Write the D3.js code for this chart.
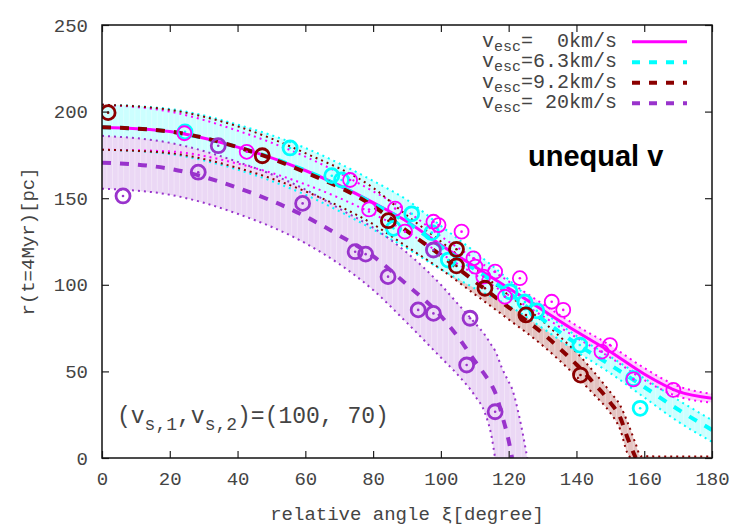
<!DOCTYPE html>
<html>
<head>
<meta charset="utf-8">
<script src="https://cdn.jsdelivr.net/npm/d3@7"></script>
<style>
    body { margin: 0; background: #fff; }
    svg text { font-family: "Liberation Mono", "DejaVu Sans Mono", monospace; white-space: pre; }
</style>
</head>
<body>
<div id="chart"></div>
<script>
// axis ticks
const xTicks = [0, 20, 40, 60, 80, 100, 120, 140, 160, 180];
const yTicks = [0, 50, 100, 150, 200, 250];

// model curves: [angle, lower, mean, upper]
const band0 = [
    [0, 178, 191, 204], [20, 177, 188.5, 200], [40, 170, 179.5, 189], [60, 158, 166, 174],
    [80, 141, 147.5, 154], [90, 130.5, 136.5, 142.5], [100, 118, 123, 128], [110, 106, 110.5, 115],
    [120, 94, 98, 102], [130, 82, 85.5, 89], [140, 69.5, 73, 76.5], [150, 58, 61.4, 65],
    [160, 45, 48.5, 52], [170, 35.5, 38.5, 41.5], [180, 32, 34.5, 37]
];
const band63 = [
    [0, 178, 191, 204], [20, 175.5, 188.5, 201.5], [40, 166.5, 179.5, 192.5], [60, 152, 166, 179],
    [80, 132, 147, 160], [90, 121, 136, 149], [100, 109, 122, 134], [110, 98, 109, 119],
    [120, 88, 95.5, 103], [130, 75, 80, 85], [140, 61.5, 66, 70.5], [150, 49, 53.7, 58.5],
    [160, 35, 41, 46], [170, 21, 28, 33.5], [180, 9.4, 16.2, 21.9]
];
const band92 = [
    [0, 178, 191, 204], [20, 176, 188.5, 201], [40, 167.5, 179.5, 191.5], [60, 154, 165, 176],
    [80, 135, 145.5, 156], [90, 122, 131, 140], [100, 109, 117, 125], [110, 94.5, 102, 109.5],
    [120, 80, 87, 94], [130, 65, 72, 79], [136, 54.5, 61.5, 68.5], [140, 47, 54, 61],
    [145, 37, 43.5, 50], [150, 26, 32, 38], [153, 16, 23, 30], [155, 3, 12, 21],
    [156, 0, 7, 16], [157.5, 0, 0, 8], [159, 0, 0, 1], [180, 0, 0, 0.8]
];
const band20 = [
    [0, 155.5, 170.5, 186], [20, 152, 167, 182], [40, 141, 156, 171], [60, 124, 139.5, 155],
    [70, 112, 128.5, 144], [80, 97, 116.5, 133], [90, 78, 100, 118.5], [100, 58, 82, 100],
    [105, 48, 70, 89], [110, 36, 56, 78], [113, 26, 48, 71], [115, 12, 42, 65],
    [116, 0, 38, 62], [118, 0, 25, 52], [120, 0, 10, 44], [121, 0, 0, 40],
    [123, 0, 0, 25], [125.5, 0, 0, 0]
];

// simulation points: [angle, r]
const pts0 = [
    [24.3, 187.5], [42.7, 176.8], [73.2, 160.5], [78.8, 143.5], [86.5, 144], [89.4, 130.7],
    [97.8, 136.4], [99.3, 134.5], [106.1, 130.7], [109.6, 115.3], [110.2, 110.5], [112.5, 104.7],
    [116, 107.6], [118.9, 93.1], [123.3, 103.8], [132.7, 90.2], [136.1, 85.5], [147.4, 61.4],
    [149.9, 65.2], [156.8, 45.4], [168.6, 39.3]
];
const pts63 = [
    [24.5, 188.3], [55.5, 179], [67.8, 163], [70.7, 160.5], [86, 132.6], [91.4, 141],
    [97.3, 130.1], [102.2, 114.3], [120.4, 96], [124.8, 90], [128.3, 85], [141, 65.2],
    [156.8, 45.8], [158.8, 28.7]
];
const pts92 = [
    [1.8, 199.4], [47.3, 174.5], [84.5, 137], [104.6, 120.5], [104.6, 110.9], [113, 98],
    [125.1, 82.6], [141.2, 47.9]
];
const pts20 = [
    [6.2, 151.3], [28.4, 165], [34.3, 180.3], [59.2, 147], [74.7, 119.1], [77.8, 117.7],
    [84.4, 104.7], [93.3, 85.5], [97.8, 83.5], [97.8, 120.1], [107.6, 53.7], [108.6, 80.7],
    [116, 26.7]
];

const legendLabels = ["=  0km/s", "=6.3km/s", "=9.2km/s", "= 20km/s"];

const series = [
    {id: "s0", band: band0, pts: pts0, color: "#ff00ff", shade: "#ffccff", dash: null, ring: 1.8},
    {id: "s63", band: band63, pts: pts63, color: "#00ffff", shade: "#ccffff", dash: "9,9", ring: 2.8},
    {id: "s92", band: band92, pts: pts92, color: "#8b0000", shade: "#e3c3c1", dash: "9,9", ring: 2.8},
    {id: "s20", band: band20, pts: pts20, color: "#9933cc", shade: "#ebd8f5", dash: "9,9", ring: 2.8}
];

const W = 750, H = 525;
const plot = {left: 102, right: 712, top: 25, bottom: 458};

const svg = d3.select("#chart").append("svg")
    .attr("width", W)
    .attr("height", H);

const x = d3.scaleLinear().domain([0, 180]).range([plot.left, plot.right]);
const y = d3.scaleLinear().domain([0, 250]).range([plot.bottom, plot.top]);

const defs = svg.append("defs");
defs.append("clipPath").attr("id", "clip")
    .append("rect")
    .attr("x", plot.left).attr("y", plot.top)
    .attr("width", plot.right - plot.left).attr("height", plot.bottom - plot.top);

// light fill with faint vertical streaks, like the original renderer
series.forEach(s => {
    const p = defs.append("pattern")
        .attr("id", "fill-" + s.id)
        .attr("patternUnits", "userSpaceOnUse")
        .attr("width", 5.6).attr("height", 10);
    p.append("rect").attr("width", 5.6).attr("height", 10).attr("fill", s.shade);
    p.append("rect").attr("width", 0.8).attr("height", 10).attr("fill", "#fff").attr("opacity", 0.4);
});

const g = svg.append("g").attr("clip-path", "url(#clip)");

// keep a line only until it reaches zero
function untilZero(rows, k) {
    const out = [];
    for (const r of rows) {
        out.push(r);
        if (r[k] <= 0) break;
    }
    return out;
}

const area = d3.area()
    .x(d => x(d[0]))
    .y0(d => y(d[1]))
    .y1(d => y(d[3]))
    .curve(d3.curveMonotoneX);

const lineOf = k => d3.line()
    .x(d => x(d[0]))
    .y(d => y(d[k]))
    .curve(d3.curveMonotoneX);

// shaded bands (opaque, later ones cover earlier ones)
[2, 0, 1, 3].forEach(i => {
    const s = series[i];
    g.append("path")
        .datum(s.band)
        .attr("d", area)
        .attr("fill", `url(#fill-${s.id})`);
});

// dotted band edges
series.forEach(s => {
    [1, 3].forEach(k => {
        g.append("path")
            .datum(untilZero(s.band, k))
            .attr("d", lineOf(k))
            .attr("fill", "none")
            .attr("stroke", s.color)
            .attr("stroke-width", 2)
            .attr("stroke-dasharray", "2,4");
    });
});

// mean curves
series.forEach(s => {
    g.append("path")
        .datum(untilZero(s.band, 2))
        .attr("d", lineOf(2))
        .attr("fill", "none")
        .attr("stroke", s.color)
        .attr("stroke-width", s.dash ? 4 : 3)
        .attr("stroke-dasharray", s.dash);
});

// points: ring with a dot in the middle
[1, 0, 2, 3].forEach(i => {
    const s = series[i];
    const pg = g.append("g");
    pg.selectAll("circle.ring")
        .data(s.pts)
        .enter().append("circle")
        .attr("class", "ring")
        .attr("cx", d => x(d[0]))
        .attr("cy", d => y(d[1]))
        .attr("r", 7)
        .attr("fill", "none")
        .attr("stroke", s.color)
        .attr("stroke-width", s.ring);
    pg.selectAll("circle.dot")
        .data(s.pts)
        .enter().append("circle")
        .attr("class", "dot")
        .attr("cx", d => x(d[0]))
        .attr("cy", d => y(d[1]))
        .attr("r", 1.3)
        .attr("fill", s.color);
});

// axes, ticks pointing inward on all four sides
const tk = 7;
const axB = svg.append("g")
    .attr("transform", `translate(0,${plot.bottom})`)
    .call(d3.axisBottom(x).tickValues(xTicks).tickSizeInner(-tk).tickSizeOuter(0).tickPadding(14));
const axL = svg.append("g")
    .attr("transform", `translate(${plot.left},0)`)
    .call(d3.axisLeft(y).tickValues(yTicks).tickSizeInner(-tk).tickSizeOuter(0).tickPadding(14));
svg.append("g")
    .attr("transform", `translate(0,${plot.top})`)
    .call(d3.axisTop(x).tickValues(xTicks).tickSizeInner(-tk).tickSizeOuter(0).tickFormat(""));
svg.append("g")
    .attr("transform", `translate(${plot.right},0)`)
    .call(d3.axisRight(y).tickValues(yTicks).tickSizeInner(-tk).tickSizeOuter(0).tickFormat(""));

svg.selectAll(".domain").remove();
svg.selectAll(".tick line").attr("stroke", "#222").attr("stroke-width", 1.2);
[axB, axL].forEach(a => a.selectAll("text")
    .attr("fill", "#444")
    .style("font-size", "19px")
    .style("font-family", "'Liberation Mono', monospace"));

svg.append("rect")
    .attr("x", plot.left).attr("y", plot.top)
    .attr("width", plot.right - plot.left).attr("height", plot.bottom - plot.top)
    .attr("fill", "none")
    .attr("stroke", "#111")
    .attr("stroke-width", 1.5);

// axis titles
svg.append("text")
    .attr("x", (plot.left + plot.right) / 2)
    .attr("y", 520)
    .attr("text-anchor", "middle")
    .attr("fill", "#444")
    .style("font-size", "19px")
    .text("relative angle ξ[degree]");

svg.append("text")
    .attr("transform", `translate(34,${(plot.top + plot.bottom) / 2}) rotate(-90)`)
    .attr("text-anchor", "middle")
    .attr("fill", "#444")
    .style("font-size", "19px")
    .text("r(t=4Myr)[pc]");

// legend
series.forEach((s, i) => {
    const ly = 41.7 + i * 20.5;
    const t = svg.append("text")
        .attr("x", 617)
        .attr("y", ly + 5)
        .attr("text-anchor", "end")
        .attr("fill", "#444")
        .style("font-size", "20px");
    t.append("tspan").text("v");
    t.append("tspan").attr("dy", 4).style("font-size", "15px").text("esc");
    t.append("tspan").attr("dy", -4).text(legendLabels[i]);
    svg.append("line")
        .attr("x1", 632).attr("x2", 687)
        .attr("y1", ly).attr("y2", ly)
        .attr("stroke", s.color)
        .attr("stroke-width", s.dash ? 4 : 3)
        .attr("stroke-dasharray", s.dash ? "8,9" : null);
});

// annotations
svg.append("text")
    .attr("x", 528)
    .attr("y", 166)
    .attr("fill", "#000")
    .style("font-family", "'Liberation Sans', Arial, sans-serif")
    .style("font-weight", "bold")
    .style("font-size", "29px")
    .text("unequal v");

const ann = svg.append("text")
    .attr("x", 117)
    .attr("y", 423)
    .attr("fill", "#444")
    .style("font-size", "23px");
ann.append("tspan").text("(v");
ann.append("tspan").attr("dy", 7).style("font-size", "18px").text("s,1");
ann.append("tspan").attr("dy", -7).text(",v");
ann.append("tspan").attr("dy", 7).style("font-size", "18px").text("s,2");
ann.append("tspan").attr("dy", -7).text(")=(100, 70)");
</script>
</body>
</html>
